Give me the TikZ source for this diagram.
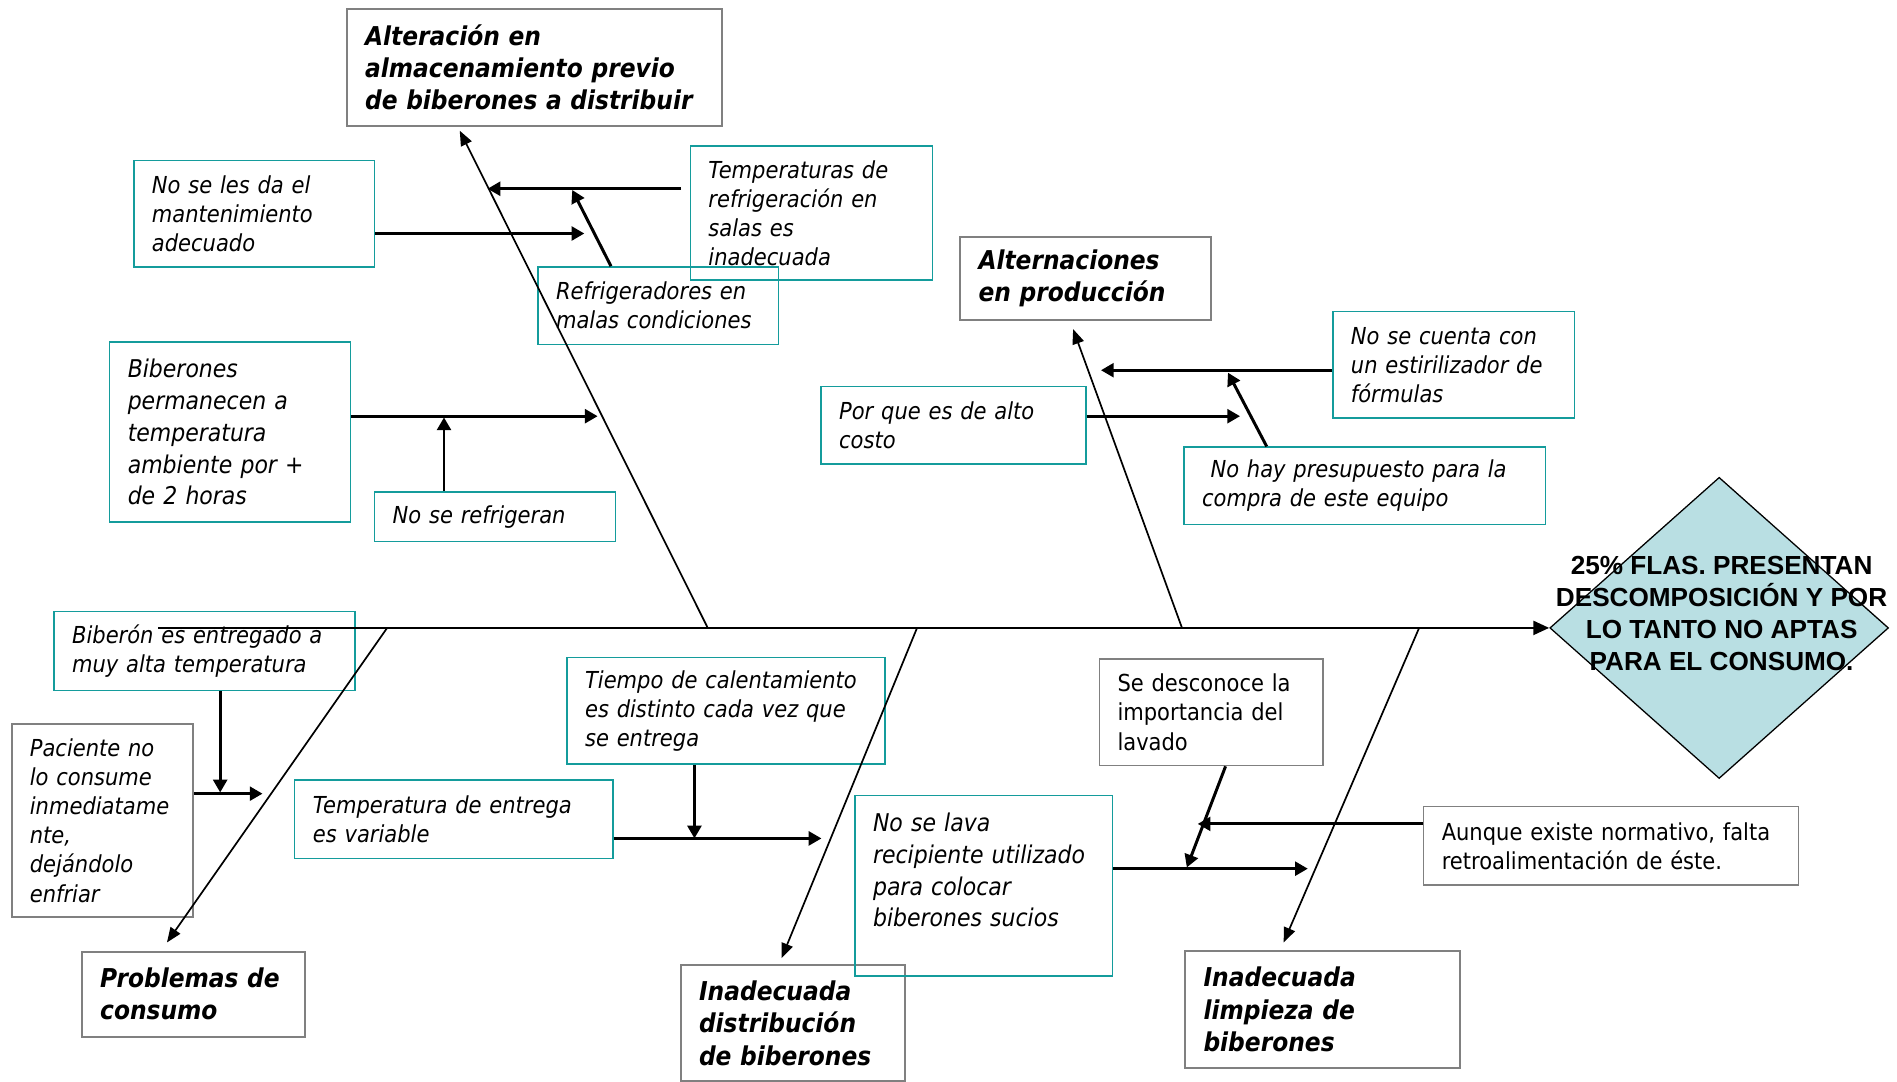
\documentclass[tikz,border=0pt]{standalone}
\usepackage{fontspec}
\setmainfont{DejaVu Sans}[FakeStretch=0.9]
\newfontfamily\efectofont{Liberation Sans}
\usepackage{tikz}
\usetikzlibrary{arrows.meta,calc,shapes.geometric}
\definecolor{Teal}{HTML}{149C9C}
\definecolor{Frame}{HTML}{808080}
\definecolor{Effect}{HTML}{B9DFE3}
\tikzset{
  causa/.style={draw=Teal,line width=0.7pt,anchor=north west,inner xsep=0.3cm,inner ysep=0pt,align=left,font=\fontsize{11}{13.7}\selectfont\itshape},
  causagris/.style={causa,draw=Frame,line width=0.8pt},
  causagrande/.style={causa,font=\fontsize{11.5}{15}\selectfont\itshape},
  nota/.style={causagris,font=\fontsize{11}{13.7}\selectfont},
  titulo/.style={causagris,line width=0.9pt,font=\fontsize{12.2}{15.1}\selectfont\bfseries\itshape},
  efectobox/.style={diamond,draw=black,fill=Effect,line width=0.6pt,minimum width=5.6cm,minimum height=4.98cm,inner sep=0pt},
  efectotxt/.style={align=center,inner sep=0pt,font=\efectofont\fontsize{12.3}{15}\selectfont\bfseries},
  espina/.style={-{Triangle[length=7.5pt,width=6.6pt]},line width=1.1pt},
  hueso/.style={-{Triangle[length=7pt,width=5.5pt]},line width=0.8pt},
  flecha/.style={-{Triangle[length=6pt,width=6.5pt]},line width=1.4pt}
}

\begin{document}
\begin{tikzpicture}[x=0.02cm,y=-0.02cm]
  \useasboundingbox (0,0) rectangle (1568,894);

  % efecto
  \node[efectobox] (efecto) at (1421,519) {};
  \node[efectotxt] (efectotexto) at (1423,507) {25\% FLAS. PRESENTAN\\DESCOMPOSICIÓN Y POR\\LO TANTO NO APTAS\\PARA EL CONSUMO.};

  % categorias
  \node[titulo,minimum width=6.2cm,minimum height=1.92cm,text width=5.6cm] (alm) at (286,7) {Alteración en\\almacenamiento previo\\de biberones a distribuir};
  \node[titulo,minimum width=4.14cm,minimum height=1.38cm,text width=3.54cm] (prod) at (793,195) {Alternaciones\\en producción};
  \node[titulo,minimum width=3.68cm,minimum height=1.4cm,text width=3.08cm] (cons) at (67,786) {Problemas de\\consumo};
  \node[titulo,minimum width=3.7cm,minimum height=1.92cm,text width=3.1cm] (dist) at (562,797) {Inadecuada\\distribución\\de biberones};
  \node[titulo,minimum width=4.54cm,minimum height=1.94cm,text width=3.94cm] (limp) at (979,785) {Inadecuada\\limpieza de\\biberones};

  % causas
  \node[causa,minimum width=3.98cm,minimum height=1.76cm,text width=3.38cm] (mant) at (110,132) {No se les da el\\mantenimiento\\adecuado};
  \node[causa,minimum width=4cm,minimum height=2.22cm,text width=3.4cm] (temp) at (570,120) {Temperaturas de\\refrigeración en\\salas es\\inadecuada};
  \node[causa,minimum width=3.98cm,minimum height=1.28cm,text width=3.38cm] (refri) at (444,220) {Refrigeradores en\\malas condiciones};
  \node[causagrande,minimum width=3.98cm,minimum height=2.98cm,text width=3.38cm] (perm) at (90,282) {Biberones\\permanecen a\\temperatura\\ambiente por +\\de 2 horas};
  \node[causa,minimum width=3.98cm,minimum height=0.82cm,text width=3.38cm] (nore) at (309,406) {No se refrigeran};
  \node[causa,minimum width=4cm,minimum height=1.76cm,text width=3.4cm] (estir) at (1101,257) {No se cuenta con\\un estirilizador de\\fórmulas};
  \node[causa,minimum width=4.38cm,minimum height=1.28cm,text width=3.78cm] (alto) at (678,319) {Por que es de alto\\costo};
  \node[causa,minimum width=5.98cm,minimum height=1.28cm,text width=5.38cm] (presu) at (978,369) {\hspace*{0.14cm}No hay presupuesto para la\\compra de este equipo};
  \node[causa,minimum width=4.98cm,minimum height=1.3cm,text width=4.38cm] (entreg) at (44,505) {Biberón es entregado a\\muy alta temperatura};
  \node[causagris,minimum width=3cm,minimum height=3.18cm,text width=2.4cm] (pac) at (9,598) {Paciente no\\lo consume\\inmediatame\\nte,\\dejándolo\\enfriar};
  \node[causa,minimum width=5.26cm,minimum height=1.76cm,text width=4.66cm] (tiempo) at (468,543) {Tiempo de calentamiento\\es distinto cada vez que\\se entrega};
  \node[causa,minimum width=5.26cm,minimum height=1.3cm,text width=4.66cm] (tempent) at (243,644) {Temperatura de entrega\\es variable};
  \node[nota,minimum width=3.7cm,minimum height=1.76cm,text width=3.1cm] (desc) at (908,544) {Se desconoce la\\importancia del\\lavado};
  \node[causagrande,minimum width=4.26cm,minimum height=2.98cm,text width=3.66cm] (lava) at (706,657) {No se lava\\recipiente utilizado\\para colocar\\biberones sucios\\\mbox{}};
  \node[nota,minimum width=6.2cm,minimum height=1.3cm,text width=5.6cm] (aunq) at (1176,666) {Aunque existe normativo, falta\\retroalimentación de éste.};

  % espina y huesos
  \coordinate (cola) at (131,519);
  \coordinate (sA) at (585,519);
  \coordinate (sB) at (977,519);
  \coordinate (sC) at (320,519);
  \coordinate (sD) at (758,519);
  \coordinate (sE) at (1173,519);
  \coordinate (tA) at (380,108);
  \coordinate (tB) at (887,272);
  \coordinate (tC) at (138,779);
  \coordinate (tD) at (646,792);
  \coordinate (tE) at (1061,779);
  \draw[espina] (cola) -- (efecto.west);
  \draw[hueso] (sA) -- (tA);
  \draw[hueso] (sB) -- (tB);
  \draw[hueso] (sC) -- (tC);
  \draw[hueso] (sD) -- (tD);
  \draw[hueso] (sE) -- (tE);

  % flechas de causas
  \coordinate (c1) at (403,156);
  \coordinate (c2) at (473,157);
  \coordinate (c3) at (483,193);
  \coordinate (c4) at (494,344);
  \coordinate (c5) at (367,345);
  \coordinate (c6) at (910,306);
  \coordinate (c7) at (1015,308);
  \coordinate (c8) at (1025,344);
  \coordinate (c9) at (182,655);
  \coordinate (c10) at (217,656);
  \coordinate (c11) at (574,693);
  \coordinate (c12) at (679,693);
  \coordinate (c13) at (981,717);
  \coordinate (c14) at (990,681);
  \coordinate (c15) at (1081,718);
  \draw[flecha] ([xshift=-0.14cm]temp.west |- c1) -- (c1);
  \draw[flecha] ($(refri.north west)+(61,0)$) -- (c2);
  \draw[flecha] (mant.east |- c3) -- (c3);
  \draw[flecha] (perm.east |- c4) -- (c4);
  \draw[flecha] (c5 |- nore.north) -- (c5);
  \draw[flecha] (estir.west |- c6) -- (c6);
  \draw[flecha] ($(presu.north west)+(69,0)$) -- (c7);
  \draw[flecha] (alto.east |- c8) -- (c8);
  \draw[flecha] (c9 |- entreg.south) -- (c9);
  \draw[flecha] (pac.east |- c10) -- (c10);
  \draw[flecha] (c11 |- tiempo.south) -- (c11);
  \draw[flecha] (tempent.east |- c12) -- (c12);
  \draw[flecha] ($(desc.south west)+(105,0)$) -- (c13);
  \draw[flecha] (aunq.west |- c14) -- (c14);
  \draw[flecha] (lava.east |- c15) -- (c15);
\end{tikzpicture}
\end{document}
